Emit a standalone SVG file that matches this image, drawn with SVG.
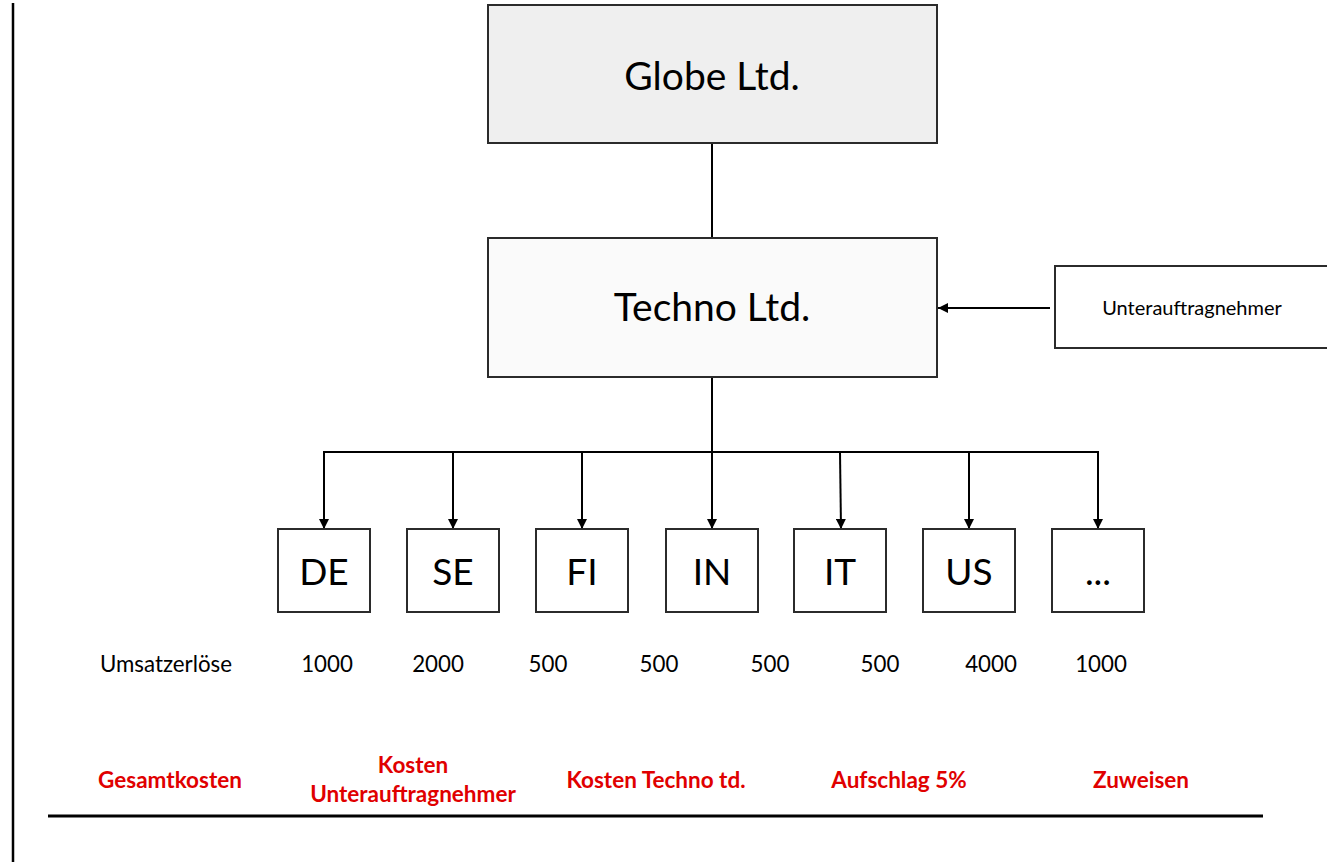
<svg xmlns="http://www.w3.org/2000/svg" width="1327" height="862" viewBox="0 0 1327 862">
<style>
.box{stroke:#2b2b2b;stroke-width:2}
.big{font-family:Lato,"Open Sans",sans-serif;font-size:39px;fill:#000;text-anchor:middle}
.cc{font-family:Lato,"Open Sans",sans-serif;font-size:37px;fill:#000;text-anchor:middle}
.sm{font-family:Lato,"Open Sans",sans-serif;font-size:22.3px;fill:#000;text-anchor:middle}
.red{font-family:Lato,"Open Sans",sans-serif;font-size:22.5px;font-weight:bold;fill:#e00000;text-anchor:middle}
.ln{stroke:#000;stroke-width:2;fill:none}
</style>
<defs>
<marker id="ah" viewBox="0 0 10 10" refX="10" refY="5" markerWidth="10" markerHeight="10" markerUnits="userSpaceOnUse" orient="auto">
<path d="M0,0 L10,5 L0,10 z" fill="#000"/>
</marker>
</defs>
<rect width="1327" height="862" fill="#fff"/>
<line x1="13" y1="3" x2="13" y2="862" stroke="#000" stroke-width="2.5"/>
<g id="connectors">
<line class="ln" x1="712" y1="143" x2="712" y2="238"/>
<line class="ln" x1="1050" y1="308" x2="938" y2="308" marker-end="url(#ah)"/>
<line class="ln" x1="712" y1="377" x2="712" y2="452"/>
<line class="ln" x1="323" y1="452" x2="1099" y2="452"/>
<line class="ln" x1="324" y1="452" x2="324" y2="529" marker-end="url(#ah)"/>
<line class="ln" x1="453" y1="452" x2="453" y2="529" marker-end="url(#ah)"/>
<line class="ln" x1="582" y1="452" x2="582" y2="529" marker-end="url(#ah)"/>
<line class="ln" x1="712" y1="452" x2="712" y2="529" marker-end="url(#ah)"/>
<line class="ln" x1="840" y1="452" x2="841" y2="529" marker-end="url(#ah)"/>
<line class="ln" x1="969" y1="452" x2="969" y2="529" marker-end="url(#ah)"/>
<line class="ln" x1="1098" y1="452" x2="1098" y2="529" marker-end="url(#ah)"/>
</g>
<g id="globe">
<rect class="box" x="488" y="5" width="449" height="138" fill="#efefef"/>
<text class="big" x="712" y="90">Globe Ltd.</text>
</g>
<g id="techno">
<rect class="box" x="488" y="238" width="449" height="139" fill="#fafafa"/>
<text class="big" x="712" y="321">Techno Ltd.</text>
</g>
<g id="sub">
<rect class="box" x="1055" y="266" width="280" height="82" fill="#fff"/>
<text class="sm" x="1192" y="315" style="font-size:20px">Unterauftragnehmer</text>
</g>
<g id="de"><rect class="box" x="278" y="529" width="92" height="83" fill="#fff"/><text class="cc" x="324" y="585">DE</text></g>
<g id="se"><rect class="box" x="407" y="529" width="92" height="83" fill="#fff"/><text class="cc" x="453" y="585">SE</text></g>
<g id="fi"><rect class="box" x="536" y="529" width="92" height="83" fill="#fff"/><text class="cc" x="582" y="585">FI</text></g>
<g id="in"><rect class="box" x="666" y="529" width="92" height="83" fill="#fff"/><text class="cc" x="712" y="585">IN</text></g>
<g id="it"><rect class="box" x="794" y="529" width="92" height="83" fill="#fff"/><text class="cc" x="840" y="585">IT</text></g>
<g id="us"><rect class="box" x="923" y="529" width="92" height="83" fill="#fff"/><text class="cc" x="969" y="585">US</text></g>
<g id="more"><rect class="box" x="1052" y="529" width="92" height="83" fill="#fff"/><text class="cc" x="1098" y="585">...</text></g>
<g id="revenue">
<text class="sm" x="166" y="672">Umsatzerlöse</text>
<text class="sm" x="327" y="672">1000</text>
<text class="sm" x="438" y="672">2000</text>
<text class="sm" x="548" y="672">500</text>
<text class="sm" x="659" y="672">500</text>
<text class="sm" x="770" y="672">500</text>
<text class="sm" x="880" y="672">500</text>
<text class="sm" x="991" y="672">4000</text>
<text class="sm" x="1101" y="672">1000</text>
</g>
<g id="costs">
<text class="red" x="170" y="788">Gesamtkosten</text>
<text class="red" x="413" y="773">Kosten</text>
<text class="red" x="413" y="802">Unterauftragnehmer</text>
<text class="red" x="656" y="788">Kosten Techno td.</text>
<text class="red" x="899" y="788">Aufschlag 5%</text>
<text class="red" x="1141" y="788">Zuweisen</text>
</g>
<line x1="48" y1="816" x2="1263" y2="816" stroke="#000" stroke-width="3"/>
</svg>
